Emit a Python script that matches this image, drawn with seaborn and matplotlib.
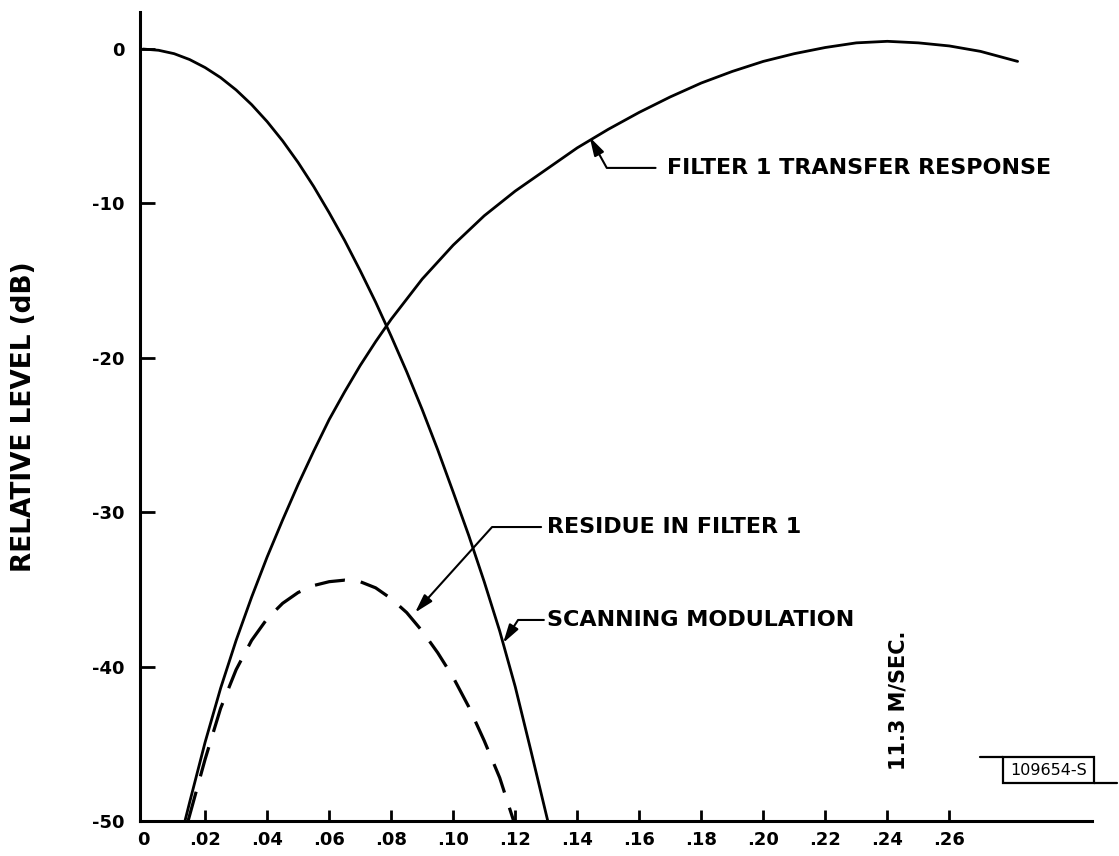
import numpy as np
import pandas as pd
import seaborn as sns
import matplotlib.pyplot as plt
from matplotlib.patches import Rectangle

# values (x = velocity scale, y = relative level in dB)
scan_x = [0, 0.005, 0.01, 0.015, 0.02, 0.025, 0.03, 0.035, 0.04, 0.045, 0.05, 0.055, 0.06,
          0.065, 0.07, 0.075, 0.08, 0.085, 0.09, 0.095, 0.10, 0.105, 0.11, 0.115, 0.12, 0.125, 0.1305]
scan_y = [0, -0.08, -0.3, -0.68, -1.2, -1.85, -2.65, -3.6, -4.7, -5.95, -7.35, -8.9, -10.6,
          -12.4, -14.35, -16.4, -18.6, -20.9, -23.35, -25.95, -28.7, -31.5, -34.5, -37.7, -41.3, -45.4, -50]

filt_x = [0.0135, 0.015, 0.02, 0.025, 0.03, 0.035, 0.04, 0.045, 0.05, 0.055, 0.06, 0.065, 0.07,
          0.075, 0.08, 0.09, 0.10, 0.11, 0.12, 0.13, 0.14, 0.15, 0.16, 0.17, 0.18, 0.19, 0.20,
          0.21, 0.22, 0.23, 0.24, 0.25, 0.26, 0.27, 0.282]
filt_y = [-50, -48.8, -44.9, -41.4, -38.3, -35.5, -32.9, -30.5, -28.2, -26.05, -24.0, -22.2, -20.5,
          -18.95, -17.5, -14.9, -12.7, -10.8, -9.2, -7.8, -6.4, -5.2, -4.1, -3.1, -2.2, -1.45, -0.8,
          -0.3, 0.1, 0.4, 0.5, 0.4, 0.2, -0.15, -0.8]

res_x = [0.0145, 0.02, 0.025, 0.03, 0.035, 0.04, 0.045, 0.05, 0.055, 0.06, 0.065, 0.07, 0.075,
         0.08, 0.085, 0.09, 0.095, 0.10, 0.105, 0.11, 0.115, 0.1195]
res_y = [-50, -46.0, -42.7, -40.2, -38.3, -36.9, -35.9, -35.2, -34.75, -34.5, -34.4, -34.5, -34.9,
         -35.6, -36.5, -37.7, -39.1, -40.7, -42.6, -44.8, -47.2, -50]

x_ticks = [0, .02, .04, .06, .08, .10, .12, .14, .16, .18, .20, .22, .24, .26]
x_ticklabels = ['0', '.02', '.04', '.06', '.08', '.10', '.12', '.14', '.16', '.18', '.20', '.22', '.24', '.26']
y_ticks = [-50, -40, -30, -20, -10, 0]
y_ticklabels = ['-50', '-40', '-30', '-20', '-10', '0']

sns.set_style('ticks')
plt.rcParams['font.family'] = ['DejaVu Sans']
plt.rcParams['font.weight'] = 'bold'
plt.rcParams['text.color'] = 'black'
plt.rcParams['axes.labelcolor'] = 'black'

fig = plt.figure(figsize=(11.19, 8.56), dpi=100)
ax = fig.add_axes([0.1251, 0.0409, 0.8508, 0.9451])

df_scan = pd.DataFrame({'x': scan_x, 'y': scan_y})
df_filt = pd.DataFrame({'x': filt_x, 'y': filt_y})
df_res = pd.DataFrame({'x': res_x, 'y': res_y})

sns.lineplot(data=df_scan, x='x', y='y', ax=ax, color='black', lw=2.0, sort=False, estimator=None)
sns.lineplot(data=df_filt, x='x', y='y', ax=ax, color='black', lw=2.0, sort=False, estimator=None)
sns.lineplot(data=df_res, x='x', y='y', ax=ax, color='black', lw=2.3, sort=False, estimator=None)
ax.lines[-1].set_dashes([9.5, 5])

ax.set_xlim(-0.001, 0.306)
ax.set_ylim(-50, 2.4)
ax.set_xticks(x_ticks)
ax.set_xticklabels(x_ticklabels)
ax.set_yticks(y_ticks)
ax.set_yticklabels(y_ticklabels)
ax.tick_params(axis='x', direction='in', length=8, width=2, pad=7, labelsize=13, colors='black')
ax.tick_params(axis='y', direction='in', length=11, width=2, pad=11, labelsize=13, colors='black')
for lab in ax.get_xticklabels() + ax.get_yticklabels():
    lab.set_fontweight('bold')
ax.xaxis.get_major_ticks()[0].tick1line.set_visible(False)
ax.yaxis.get_major_ticks()[0].tick1line.set_visible(False)

sns.despine(ax=ax)
for s in ['left', 'bottom']:
    ax.spines[s].set_linewidth(2.2)
    ax.spines[s].set_color('black')

ax.set_xlabel('')
ax.set_ylabel('RELATIVE LEVEL (dB)', fontsize=19, fontweight='bold', va='center')
ax.yaxis.set_label_coords(-0.1218, 0.5)

# leader annotations
arrow = dict(arrowstyle='-|>,head_length=0.7,head_width=0.2', color='black', lw=1.5,
             relpos=(0, 0.5), shrinkB=0)
ax.annotate('FILTER 1 TRANSFER RESPONSE', xy=(0.144, -5.7), xytext=(0.169, -7.7),
            fontsize=16, fontweight='bold', ha='left', va='center',
            arrowprops=dict(arrow, connectionstyle='angle,angleA=0,angleB=-61,rad=0', shrinkA=6))
ax.annotate('RESIDUE IN FILTER 1', xy=(0.0877, -36.5), xytext=(0.1303, -30.96),
            fontsize=16, fontweight='bold', ha='left', va='center',
            arrowprops=dict(arrow, connectionstyle='angle,angleA=0,angleB=48,rad=0', shrinkA=2))
ax.annotate('SCANNING MODULATION', xy=(0.1161, -38.47), xytext=(0.1303, -36.98),
            fontsize=16, fontweight='bold', ha='left', va='center',
            arrowprops=dict(arrow, connectionstyle='angle,angleA=0,angleB=57,rad=0', shrinkA=0))

ax.text(0.2435, -42.2, '11.3 M/SEC.', rotation=90, fontsize=15, fontweight='bold',
        ha='center', va='center')

# drawing number tag
ax.add_patch(Rectangle((0.2774, -47.54), 0.0291, 1.69, fill=False, lw=1.6, ec='black', clip_on=False))
ax.plot([0.270, 0.2774], [-45.85, -45.85], color='black', lw=1.6, clip_on=False)
ax.plot([0.3065, 0.3142], [-47.54, -47.54], color='black', lw=1.6, clip_on=False)
ax.text(0.29195, -46.7, '109654-S', fontsize=11.5, fontweight='normal', ha='center', va='center')

fig.savefig('out.png', dpi=100)
